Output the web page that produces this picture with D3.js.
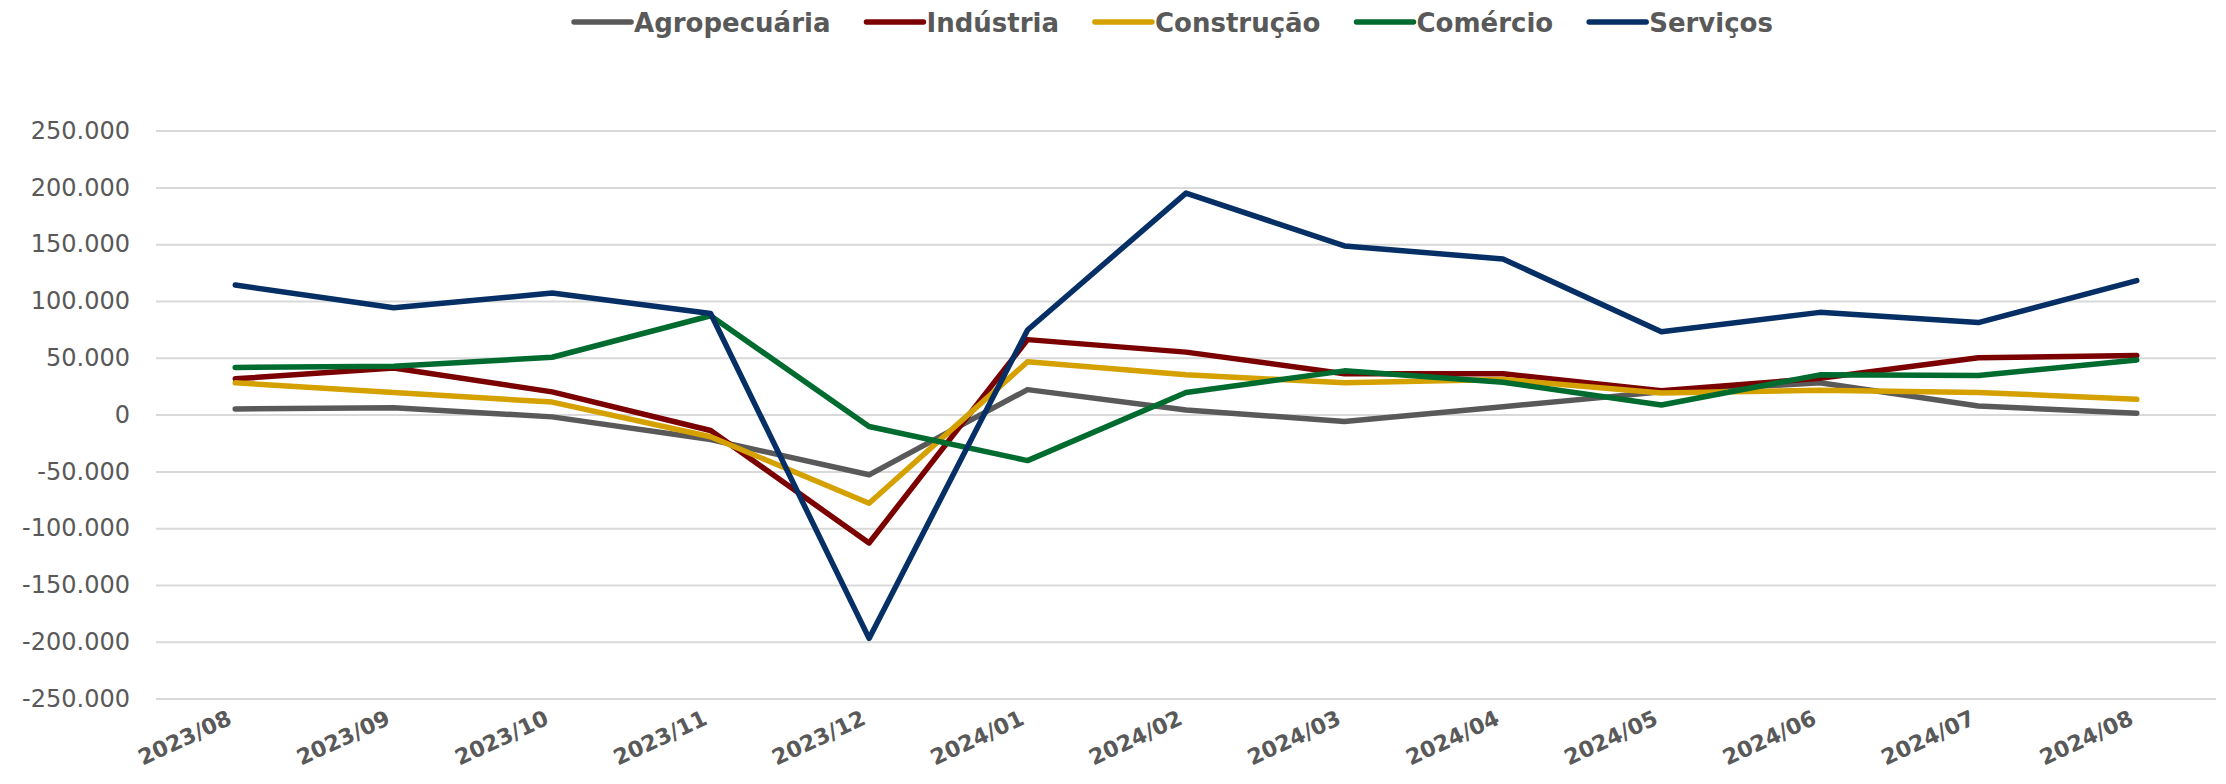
<!DOCTYPE html>
<html>
<head>
<meta charset="utf-8">
<script src="https://cdn.jsdelivr.net/npm/d3@7"></script>
<style>
  html, body { margin: 0; padding: 0; background: #fff; }
  svg { display: block; }
</style>
</head>
<body>
<svg id="chart" width="2226" height="784"></svg>
<script>
const months = ["2023/08","2023/09","2023/10","2023/11","2023/12","2024/01","2024/02","2024/03","2024/04","2024/05","2024/06","2024/07","2024/08"];
const agropecuaria = [5000, 6000, -2000, -22000, -53000, 22000, 4000, -6000, 7000, 20000, 28000, 7500, 1200];
const industria    = [31500, 41000, 20000, -14000, -113000, 66000, 55000, 36000, 36000, 21000, 32000, 50000, 52000];
const construcao   = [28000, 19500, 11000, -19500, -78000, 46500, 35000, 28000, 31000, 19000, 21500, 19500, 13500];
const comercio     = [41500, 42500, 50500, 87000, -10500, -40500, 19500, 38500, 28500, 8500, 35000, 34500, 48000];
const servicos     = [114000, 94000, 107000, 89000, -197000, 74500, 195000, 148500, 137000, 73000, 90000, 81000, 118000];
const seriesNames  = ["Agropecuária", "Indústria", "Construção", "Comércio", "Serviços"];
const seriesColors = ["#595959", "#7B0000", "#D4A100", "#006B2F", "#062F66"];
const yTicks = [-250000, -200000, -150000, -100000, -50000, 0, 50000, 100000, 150000, 200000, 250000];

(function () {
const seriesValues = [agropecuaria, industria, construcao, comercio, servicos];
const series = seriesNames.map((n, i) => ({ name: n, color: seriesColors[i], values: seriesValues[i] }));

const svg = d3.select("#chart");
const plotLeft = 156, plotRight = 2216, plotTop = 130.6, plotBottom = 698.6;

const x = d3.scaleBand().domain(months).range([plotLeft, plotRight]).padding(0);
const y = d3.scaleLinear().domain([-250000, 250000]).range([plotBottom, plotTop]);
const cx = d => x(d) + x.bandwidth() / 2;

const locale = d3.formatLocale({ decimal: ",", thousands: ".", grouping: [3], currency: ["", ""], minus: "-" });
const fmt = locale.format(",d");

// gridlines
const grid = svg.append("g").attr("transform", `translate(${plotLeft},0)`)
  .call(d3.axisLeft(y).tickValues(yTicks).tickSize(-(plotRight - plotLeft)).tickFormat(""));
grid.select(".domain").remove();
grid.selectAll("line").attr("stroke", "#D9D9D9").attr("stroke-width", 2);

// y axis labels
const yAxis = svg.append("g").attr("transform", `translate(${plotLeft},0)`)
  .call(d3.axisLeft(y).tickValues(yTicks).tickSize(0).tickPadding(26).tickFormat(fmt));
yAxis.select(".domain").remove();
yAxis.selectAll("text")
  .attr("fill", "#595959")
  .style("font-family", "'DejaVu Sans', sans-serif")
  .style("font-size", "24px");

// x axis labels
const xAxis = svg.append("g").attr("transform", `translate(0,${plotBottom})`)
  .call(d3.axisBottom(x).tickSize(0));
xAxis.select(".domain").remove();
xAxis.selectAll("text")
  .attr("y", 0).attr("dy", 0)
  .attr("text-anchor", "end")
  .attr("transform", "translate(-2,25) rotate(-25)")
  .attr("fill", "#595959")
  .style("font-family", "'DejaVu Sans', sans-serif")
  .style("font-weight", "bold")
  .style("font-size", "22px");

// lines
const line = d3.line().x((v, i) => cx(months[i])).y(v => y(v));
svg.append("g").selectAll("path").data(series).join("path")
  .attr("d", d => line(d.values))
  .attr("fill", "none")
  .attr("stroke", d => d.color)
  .attr("stroke-width", 5.5)
  .attr("stroke-linejoin", "round")
  .attr("stroke-linecap", "round");

// legend
const legend = svg.append("g");
const lineLen = 57, textGap = 3, itemGap = 36, legY = 22;
const items = legend.selectAll("g").data(series).join("g");
items.append("line")
  .attr("x1", 0).attr("x2", lineLen).attr("y1", legY).attr("y2", legY)
  .attr("stroke", d => d.color).attr("stroke-width", 5.5).attr("stroke-linecap", "round");
items.append("text")
  .attr("x", lineLen + textGap).attr("y", 32)
  .text(d => d.name)
  .attr("fill", "#595959")
  .style("font-family", "'DejaVu Sans', sans-serif")
  .style("font-weight", "bold")
  .style("font-size", "26px");
let pos = 0;
const offsets = [];
items.each(function () {
  offsets.push(pos);
  const w = d3.select(this).select("text").node().getComputedTextLength();
  pos += lineLen + textGap + w + itemGap;
});
const total = pos - itemGap;
const startX = 1173.5 - total / 2;
items.attr("transform", (d, i) => `translate(${startX + offsets[i]},0)`);
})();
</script>
</body>
</html>
